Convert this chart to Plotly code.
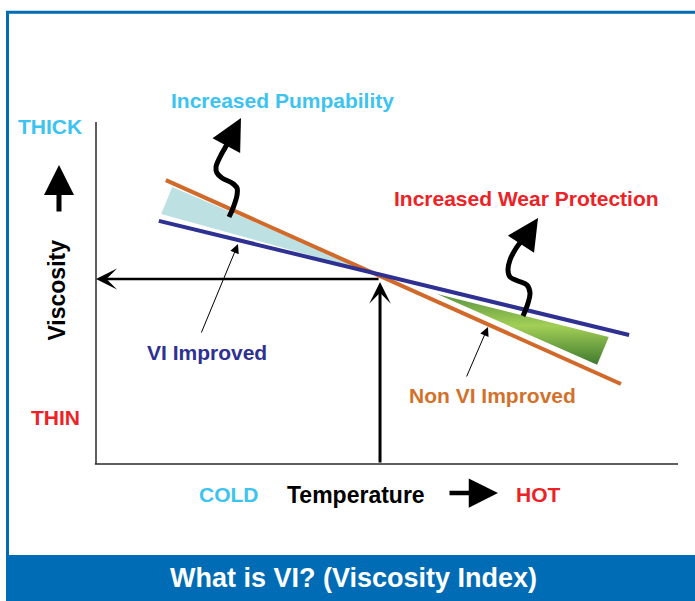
import plotly.graph_objects as go

# ---------------- data (relative units: temperature 0-100, viscosity 0-100) ----------------
temp_axis = [0, 100]
visc_axis = [0, 100]

vi_improved_temp = [10.8, 91.6]
vi_improved_visc = [71.1, 37.7]
non_vi_temp = [12.0, 90.2]
non_vi_visc = [83.0, 23.4]

pumpability_gain_temp = [13.1, 11.2, 47.4, 13.1]
pumpability_gain_visc = [81.0, 73.1, 56.0, 81.0]
wear_gain_temp = [58.6, 88.1, 86.1, 58.6]
wear_gain_visc = [49.7, 37.1, 29.0, 49.7]

reference_temp = 48.8
reference_visc = 54.1

pump_squiggle_temp = [22.85, 23.54, 24.23, 24.23, 23.37, 21.65, 20.79, 20.62, 21.31, 22.16, 22.77]
pump_squiggle_visc = [72.22, 74.85, 78.65, 80.70, 82.16, 83.63, 85.09, 86.84, 89.77, 92.40, 94.30]
pump_tip = (24.91, 101.17)

wear_squiggle_temp = [73.37, 74.23, 74.57, 74.05, 72.51, 71.13, 70.79, 71.13, 71.99, 72.85, 73.37]
wear_squiggle_visc = [43.27, 47.08, 50.00, 52.34, 53.51, 54.68, 56.73, 59.65, 62.57, 64.62, 65.20]
wear_tip = (75.95, 71.93)

visc_labels = ["THICK", "THIN"]
temp_labels = ["COLD", "HOT"]
series_labels = ["VI Improved", "Non VI Improved"]
benefit_labels = ["Increased Pumpability", "Increased Wear Protection"]
axis_titles = ["Temperature", "Viscosity"]
title_text = "What is VI? (Viscosity Index)"

# ---------------- colours ----------------
C_ORANGE = "#D0692A"
C_NAVY = "#2E3192"
C_SKY = "#3DC3F0"
C_RED = "#EC2227"
C_BANNER = "#006CB6"
FONT = "Liberation Sans, Arial, Helvetica, sans-serif"

fig = go.Figure()

# axes of the diagram
fig.add_trace(go.Scatter(x=[temp_axis[0], temp_axis[0]], y=visc_axis, mode="lines",
                         line=dict(color="#2a2a2a", width=1.5), hoverinfo="skip"))
fig.add_trace(go.Scatter(x=[temp_axis[0] - 0.2, temp_axis[1]], y=[visc_axis[0], visc_axis[0]], mode="lines",
                         line=dict(color="#2a2a2a", width=1.5), hoverinfo="skip"))

# wedges
fig.add_trace(go.Scatter(x=pumpability_gain_temp, y=pumpability_gain_visc, mode="lines", fill="toself",
                         fillcolor="#BDE0E3", line=dict(width=0, color="rgba(0,0,0,0)"), hoverinfo="skip"))
fig.add_trace(go.Scatter(x=wear_gain_temp, y=wear_gain_visc, mode="lines", fill="toself",
                         fillgradient=dict(type="vertical",
                                           colorscale=[[0, "#3E792E"], [0.55, "#A3CF56"], [1, "#5A9440"]]),
                         line=dict(width=0, color="rgba(0,0,0,0)"), hoverinfo="skip"))

# viscosity lines
fig.add_trace(go.Scatter(x=non_vi_temp, y=non_vi_visc, mode="lines",
                         line=dict(color=C_ORANGE, width=4), hoverinfo="skip"))
fig.add_trace(go.Scatter(x=vi_improved_temp, y=vi_improved_visc, mode="lines",
                         line=dict(color=C_NAVY, width=4), hoverinfo="skip"))

# squiggly arrows
fig.add_trace(go.Scatter(x=pump_squiggle_temp, y=pump_squiggle_visc, mode="lines",
                         line=dict(color="black", width=5, shape="spline", smoothing=1.0), hoverinfo="skip"))
fig.add_trace(go.Scatter(x=wear_squiggle_temp, y=wear_squiggle_visc, mode="lines",
                         line=dict(color="black", width=5, shape="spline", smoothing=1.0), hoverinfo="skip"))

ann = []


def arrow(tip, tail, width, size, head=2):
    ann.append(dict(x=tip[0], y=tip[1], ax=tail[0], ay=tail[1], xref="x", yref="y", axref="x", ayref="y",
                    text="", showarrow=True, arrowhead=head, arrowsize=size, arrowwidth=width,
                    arrowcolor="black", standoff=0, startstandoff=0))


arrow(pump_tip, (pump_squiggle_temp[-1], pump_squiggle_visc[-1]), 5, 1.25)
arrow(wear_tip, (wear_squiggle_temp[-1], wear_squiggle_visc[-1]), 5, 1.25)
# reference arrows
arrow((temp_axis[0], reference_visc), (reference_temp, reference_visc), 2.5, 1.4, head=3)
arrow((reference_temp, reference_visc - 0.9), (reference_temp, visc_axis[0]), 3, 1.2, head=3)
# pointers to the lines
arrow((24.4, 64.3), (18.0, 38.0), 1, 1.8)
arrow((67.35, 40.06), (63.57, 25.15), 1, 1.8)
# axis title arrows
arrow((-6.36, 87.4), (-6.36, 73.4), 5, 1.2, head=2)
arrow((69.07, -8.5), (60.48, -8.5), 4.5, 1.3, head=2)


def label(text, x, y, color, size=21, angle=0, xref="x", yref="y"):
    ann.append(dict(text=text, x=x, y=y, xref=xref, yref=yref, showarrow=False, textangle=angle,
                    xanchor="center", yanchor="middle",
                    font=dict(family=FONT, size=size, color=color, weight="bold")))


label(benefit_labels[0], 32.1, 106.4, C_SKY)
label(benefit_labels[1], 73.9, 77.5, C_RED)
label(series_labels[0], 19.1, 32.5, C_NAVY)
label(series_labels[1], 68.2, 19.9, "#D2712B")
label(visc_labels[0], -7.9, 98.8, C_SKY)
label(visc_labels[1], -6.9, 13.7, C_RED)
label(temp_labels[0], 22.85, -9.0, C_SKY)
label(temp_labels[1], 76.0, -9.0, C_RED)
label(axis_titles[0], 44.7, -9.0, "black", size=23)
label(axis_titles[1], -6.7, 50.7, "black", size=23, angle=-90)
label(title_text, 0.509, 0.038, "white", size=27, xref="paper", yref="paper")

shapes = [
    dict(type="rect", xref="paper", yref="paper", x0=7.5 / 695, x1=1.02, y0=-0.02, y1=1 - 12.2 / 601,
         line=dict(color=C_BANNER, width=3), fillcolor="rgba(0,0,0,0)", layer="below"),
    dict(type="rect", xref="paper", yref="paper", x0=6 / 695, x1=1.02, y0=-0.02, y1=46 / 601,
         line=dict(width=0), fillcolor=C_BANNER, layer="below"),
]

fig.update_layout(
    width=695, height=601, margin=dict(l=0, r=0, t=0, b=0),
    paper_bgcolor="white", plot_bgcolor="white", showlegend=False,
    xaxis=dict(range=[-16.495, 102.92], visible=False, fixedrange=True),
    yaxis=dict(range=[-40.06, 135.67], visible=False, fixedrange=True),
    annotations=ann, shapes=shapes,
)

fig.write_html("out.html", config={"displayModeBar": False},
               post_script="document.body.style.margin='0';document.body.style.overflow='hidden';")
